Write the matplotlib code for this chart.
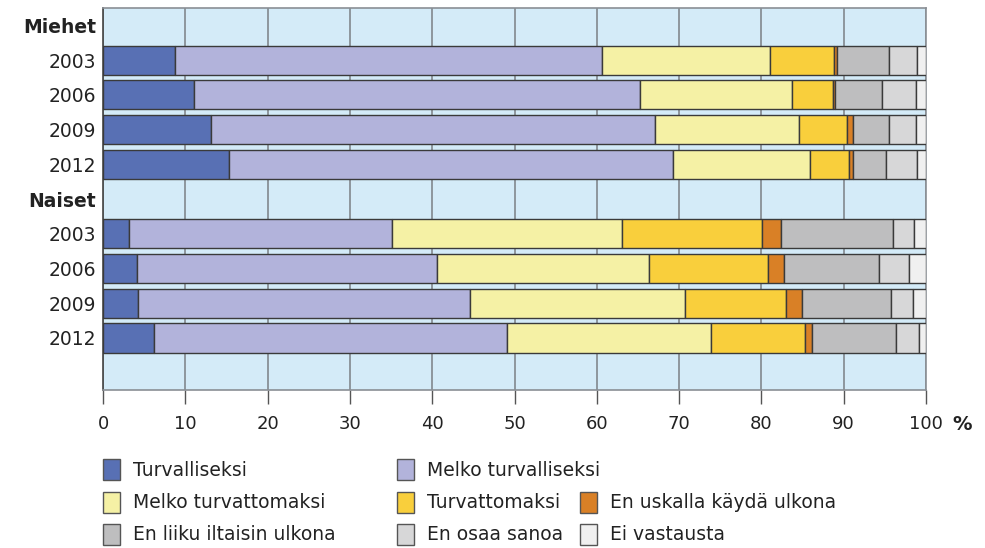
import matplotlib
matplotlib.use("Agg")
import matplotlib.pyplot as plt
from matplotlib.patches import Rectangle

# row labels (top to bottom); group headers have no bar
row_labels = ["Miehet", "2003", "2006", "2009", "2012",
              "Naiset", "2003", "2006", "2009", "2012", ""]
header_rows = [0, 5]
bar_rows = [1, 2, 3, 4, 6, 7, 8, 9]

categories = ["Turvalliseksi", "Melko turvalliseksi", "Melko turvattomaksi",
              "Turvattomaksi", "En uskalla käydä ulkona",
              "En liiku iltaisin ulkona", "En osaa sanoa", "Ei vastausta"]
colors = ["#5870B4", "#B2B3DB", "#F5F1A5", "#F9CF3C", "#D98026",
          "#BEBEBF", "#D7D7D8", "#F0F0F0"]

# % shares per row (Miehet 2003..2012, Naiset 2003..2012), one list per category
turvalliseksi       = [8.7, 11.1, 13.1, 15.3, 3.1, 4.1, 4.3, 6.2]
melko_turvalliseksi = [51.9, 54.2, 54.0, 54.0, 32.0, 36.5, 40.3, 42.9]
melko_turvattomaksi = [20.5, 18.4, 17.5, 16.6, 28.0, 25.8, 26.1, 24.8]
turvattomaksi       = [7.7, 5.0, 5.8, 4.7, 17.0, 14.4, 12.3, 11.4]
en_uskalla          = [0.4, 0.3, 0.7, 0.5, 2.3, 2.0, 1.9, 0.8]
en_liiku            = [6.3, 5.7, 4.4, 4.1, 13.6, 11.5, 10.8, 10.2]
en_osaa             = [3.4, 4.1, 3.3, 3.7, 2.6, 3.6, 2.7, 2.8]
ei_vastausta        = [1.1, 1.2, 1.2, 1.1, 1.4, 2.1, 1.6, 0.9]

series = [turvalliseksi, melko_turvalliseksi, melko_turvattomaksi, turvattomaksi,
          en_uskalla, en_liiku, en_osaa, ei_vastausta]

plt.rcParams["font.family"] = ["DejaVu Sans"]

fig = plt.figure(figsize=(9.85, 5.48), dpi=100)
ax = fig.add_axes([0.1046, 0.2883, 0.8355, 0.6971])
ax.set_facecolor("#D4EBF8")

left = [0.0] * len(bar_rows)
for vals, col in zip(series, colors):
    ax.barh(bar_rows, vals, left=left, height=0.84, color=col,
            edgecolor="#3a3a3a", linewidth=1.0, zorder=3)
    left = [l + v for l, v in zip(left, vals)]

ax.set_xlim(0, 100)
ax.set_ylim(len(row_labels) - 0.5, -0.5)
ax.set_xticks(range(0, 101, 10))
ax.set_xticklabels([str(t) for t in range(0, 101, 10)], fontsize=13, color="#222")
ax.xaxis.grid(True, color="#7a7f85", linewidth=1.1, zorder=1)
ax.tick_params(axis="x", length=10, width=1, color="#555", pad=8)

ax.set_yticks(range(len(row_labels)))
ax.set_yticklabels(row_labels, fontsize=13.5, color="#222")
ax.tick_params(axis="y", length=0, pad=5)
for i in header_rows:
    ax.get_yticklabels()[i].set_fontweight("bold")

for s in ax.spines.values():
    s.set_color("#8a8f95")
    s.set_linewidth(1.2)
ax.spines["left"].set_color("#444")

fig.text(0.977, 0.225, "%", fontsize=14, fontweight="bold", color="#222",
         ha="center", va="center")

# legend drawn in 3 rows x 3 columns (first row has two entries)
legend_slots = [(0, 0), (0, 1), (1, 0), (1, 1), (1, 2), (2, 0), (2, 1), (2, 2)]
col_x = [103, 397, 580]
row_y = [470, 503, 535]
W, H = 985.0, 548.0
for (r, c), name, col in zip(legend_slots, categories, colors):
    x0 = col_x[c]
    y0 = row_y[r]
    fig.patches.append(Rectangle((x0 / W, (H - y0 - 10) / H), 17 / W, 21 / H,
                                 transform=fig.transFigure, facecolor=col,
                                 edgecolor="#555", linewidth=1.0))
    fig.text((x0 + 30) / W, (H - y0) / H, name, fontsize=13.5, color="#222",
             ha="left", va="center")

fig.savefig("out.png", dpi=100)
